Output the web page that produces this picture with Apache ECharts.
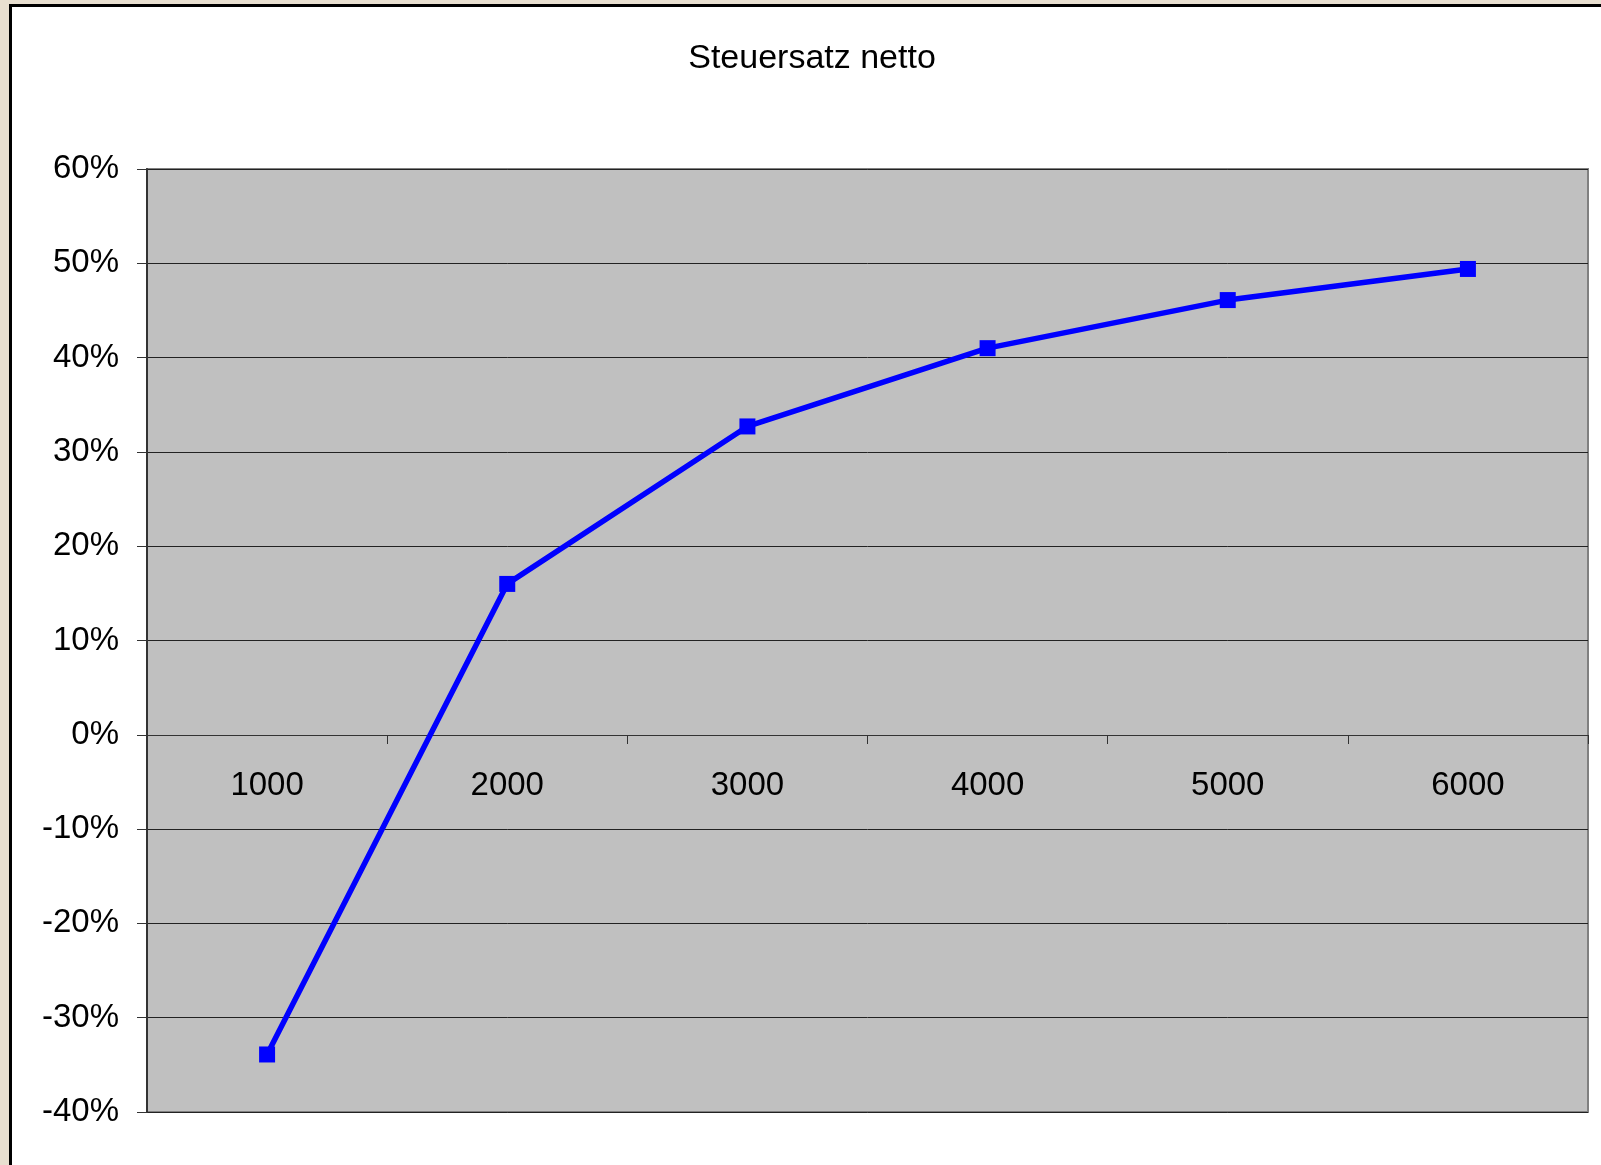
<!DOCTYPE html>
<html>
<head>
<meta charset="utf-8">
<script src="https://cdn.jsdelivr.net/npm/echarts@6/dist/echarts.min.js"></script>
<style>
  html, body { margin: 0; padding: 0; width: 1601px; height: 1165px; overflow: hidden; background: #E8DFD0; }
  #frame { position: absolute; left: 9px; top: 4px; width: 1700px; height: 1300px; border: 3px solid #000; background: #fff; }
  #chart { position: absolute; left: 0; top: 0; width: 1601px; height: 1165px; }
</style>
</head>
<body>
<div id="frame"></div>
<div id="chart"></div>
<script>
const categories = ['1000', '2000', '3000', '4000', '5000', '6000'];
const taxRate = [-33.9, 16.0, 32.7, 41.0, 46.1, 49.4];
const chartTitle = 'Steuersatz netto';

const FONT = 'Liberation Sans, Arial, sans-serif';
const chart = echarts.init(document.getElementById('chart'));
chart.setOption({
  backgroundColor: 'transparent',
  animation: false,
  graphic: [{
    type: 'text',
    x: 812, y: 59,
    style: {
      text: chartTitle,
      font: '34px ' + FONT,
      fill: '#000',
      textAlign: 'center',
      textVerticalAlign: 'middle'
    }
  }],
  grid: {
    left: 147, top: 169, right: 13, bottom: 53,
    outerBoundsMode: 'none',
    containLabel: false,
    show: true, backgroundColor: '#C0C0C0', borderColor: '#808080', borderWidth: 2
  },
  xAxis: {
    type: 'category',
    data: categories,
    boundaryGap: true,
    position: 'bottom',
    offset: -377,
    axisLine: { onZero: false, lineStyle: { color: '#333', width: 1 } },
    axisTick: { show: true, inside: false, length: 9, lineStyle: { color: '#333' } },
    axisLabel: { margin: 34, fontFamily: FONT, fontSize: 33, color: '#000' }
  },
  yAxis: {
    type: 'value',
    min: -40, max: 60, interval: 10,
    axisLine: { show: true, lineStyle: { color: '#333', width: 2 } },
    axisTick: { show: true, length: 10, lineStyle: { color: '#333' } },
    splitLine: { show: true, lineStyle: { color: '#222', width: 1 } },
    axisLabel: { margin: 28, formatter: '{value}%', fontFamily: FONT, fontSize: 33, color: '#000' }
  },
  series: [{
    type: 'line',
    data: taxRate,
    symbol: 'rect',
    symbolSize: 16,
    lineStyle: { color: '#0000FF', width: 5.5 },
    itemStyle: { color: '#0000FF' }
  }]
});
</script>
</body>
</html>
